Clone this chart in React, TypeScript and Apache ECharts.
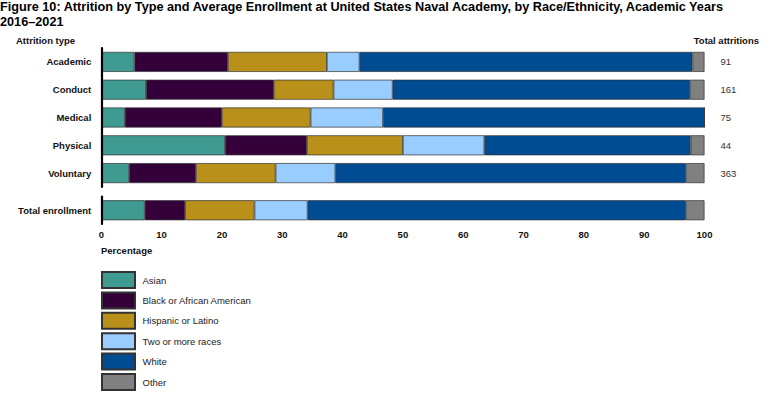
import React, { useEffect, useRef } from "react";
import * as echarts from "echarts";

const categories = ["Academic", "Conduct", "Medical", "Physical", "Voluntary"];
const totalAttritions = [91, 161, 75, 44, 363];
const enrollmentLabel = ["Total enrollment"];
const races = ["Asian", "Black or African American", "Hispanic or Latino", "Two or more races", "White", "Other"];
const colors = ["#3F9A92", "#33003A", "#B8901A", "#99CCFF", "#004C93", "#808080"];

const asian = [5.5, 7.4, 3.9, 20.5, 4.6];
const black = [15.5, 21.2, 16.1, 13.6, 11.1];
const hispanic = [16.4, 9.9, 14.7, 15.9, 13.2];
const twoOrMore = [5.4, 9.8, 12.0, 13.5, 9.9];
const white = [55.2, 49.3, 53.3, 34.2, 58.1];
const other = [2.0, 2.4, 0, 2.3, 3.1];

const enrollment = [7.2, 6.7, 11.5, 8.8, 62.7, 3.1];

const FONT = "Liberation Sans, Arial, sans-serif";

export default function App() {
  const ref = useRef<HTMLDivElement>(null);
  useEffect(() => {
    document.body.style.margin = "0";
    if (!ref.current) return;
    const chart = echarts.init(ref.current, undefined, { renderer: "svg" });
    const attr = [asian, black, hispanic, twoOrMore, white, other];
    const series: any[] = [];
    races.forEach((r, i) => {
      series.push({
        name: r,
        type: "bar",
        stack: "a",
        xAxisIndex: 0,
        yAxisIndex: 0,
        barWidth: 20,
        data: attr[i],
        itemStyle: { color: colors[i], borderColor: "#333", borderWidth: 0.7 },
      });
    });
    races.forEach((r, i) => {
      series.push({
        name: r,
        type: "bar",
        stack: "b",
        xAxisIndex: 1,
        yAxisIndex: 2,
        barWidth: 20,
        data: [enrollment[i]],
        itemStyle: { color: colors[i], borderColor: "#333", borderWidth: 0.7 },
      });
    });
    const catLabel = { fontFamily: FONT, fontSize: 9.5, fontWeight: "bold", color: "#111", margin: 10 };
    chart.setOption({
      animation: false,
      textStyle: { fontFamily: FONT },
      grid: [
        { left: 101.3, right: 65.5, top: 48, height: 139 },
        { left: 101.3, right: 65.5, top: 196.5, height: 27.5 },
      ],
      xAxis: [
        { gridIndex: 0, type: "value", min: 0, max: 100, show: false },
        {
          gridIndex: 1,
          type: "value",
          min: 0,
          max: 100,
          interval: 10,
          axisLine: { show: false },
          axisTick: { show: false },
          splitLine: { show: false },
          axisLabel: { fontFamily: FONT, fontSize: 9.5, fontWeight: "bold", color: "#111", margin: 5 },
        },
      ],
      yAxis: [
        {
          gridIndex: 0,
          type: "category",
          data: categories,
          inverse: true,
          z: 5,
          axisLine: { show: true, lineStyle: { color: "#000", width: 2.2 } },
          axisTick: { show: false },
          axisLabel: catLabel,
        },
        {
          gridIndex: 0,
          type: "category",
          data: categories,
          inverse: true,
          position: "right",
          axisLine: { show: false },
          axisTick: { show: false },
          axisLabel: {
            fontFamily: FONT,
            fontSize: 9.5,
            color: "#333",
            margin: 16,
            formatter: (_v: string, idx: number) => String(totalAttritions[idx]),
          },
        },
        {
          gridIndex: 1,
          type: "category",
          data: enrollmentLabel,
          z: 5,
          axisLine: { show: true, lineStyle: { color: "#000", width: 2.2 } },
          axisTick: { show: false },
          axisLabel: catLabel,
        },
      ],
      legend: {
        orient: "vertical",
        left: 101,
        top: 271,
        height: 128,
        padding: 0,
        itemWidth: 33,
        itemHeight: 16,
        itemGap: 2.4,
        icon: "rect",
        data: races,
        textStyle: { fontFamily: FONT, fontSize: 9.5, color: "#222", padding: [0, 0, 0, 2.5] },
      },
      graphic: [
        {
          type: "text",
          left: 0,
          top: 0,
          style: {
            text: "Figure 10: Attrition by Type and Average Enrollment at United States Naval Academy, by Race/Ethnicity, Academic Years\n2016\u20132021",
            fontFamily: FONT,
            fontSize: 12.7,
            fontWeight: "bold",
            fill: "#000",
            lineHeight: 14.7,
          },
        },
        { type: "text", left: 16, top: 35, style: { text: "Attrition type", fontFamily: FONT, fontSize: 9.5, fontWeight: "bold", fill: "#111" } },
        { type: "text", right: 11, top: 35, style: { text: "Total attritions", fontFamily: FONT, fontSize: 9.5, fontWeight: "bold", fill: "#111" } },
        { type: "text", left: 101, top: 245, style: { text: "Percentage", fontFamily: FONT, fontSize: 9.5, fontWeight: "bold", fill: "#111" } },
      ],
      series,
    });
    return () => chart.dispose();
  }, []);
  return <div ref={ref} style={{ width: 770, height: 400 }} />;
}
